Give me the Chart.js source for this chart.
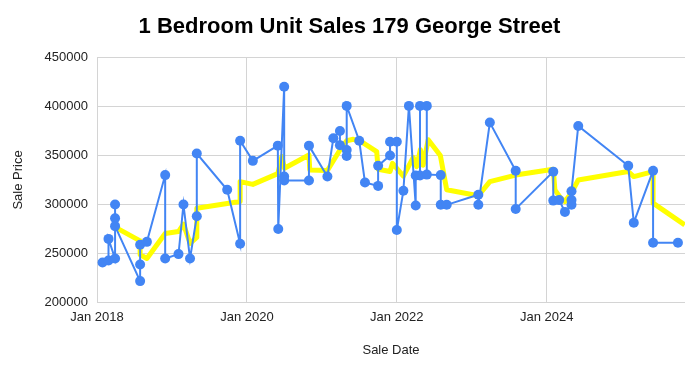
<!DOCTYPE html>
<html>
<head>
<meta charset="utf-8">
<script src="https://cdn.jsdelivr.net/npm/chart.js@4"></script>
<style>
  html, body { margin: 0; padding: 0; background: #ffffff; }
  #wrap { width: 699px; height: 368px; }
</style>
</head>
<body>
<div id="wrap"><canvas id="c" width="699" height="368"></canvas></div>
<script>
const chartTitle = "1 Bedroom Unit Sales 179 George Street";
const xAxisTitle = "Sale Date";
const yAxisTitle = "Sale Price";

const saleDates = [
  "2018-01-28","2018-02-26","2018-02-26","2018-03-30","2018-03-30","2018-03-30","2018-03-30",
  "2018-07-30","2018-07-30","2018-07-30","2018-09-01","2018-11-29","2018-11-29",
  "2019-02-02","2019-02-26","2019-03-30","2019-05-02","2019-05-02","2019-09-27",
  "2019-11-29","2019-11-29","2020-01-30","2020-05-31","2020-06-02","2020-07-01","2020-07-01","2020-07-01",
  "2020-10-30","2020-10-30","2021-01-28","2021-02-26","2021-03-30","2021-03-30",
  "2021-05-02","2021-05-02","2021-05-02","2021-07-02","2021-07-30","2021-10-02","2021-10-02",
  "2021-11-29","2021-11-29","2022-01-01","2022-01-01","2022-02-02","2022-03-01",
  "2022-04-03","2022-04-03","2022-04-24","2022-04-24","2022-05-27","2022-05-27",
  "2022-08-03","2022-08-03","2022-09-01","2023-02-02","2023-02-02","2023-03-30",
  "2023-08-03","2023-08-03","2024-02-02","2024-02-02","2024-03-02","2024-03-30",
  "2024-05-01","2024-05-01","2024-05-01","2024-06-03","2025-02-02","2025-03-01",
  "2025-06-03","2025-06-03","2025-10-02"
];
const salePrices = [
  241000,243000,265000,245000,300000,286000,278000,
  222000,239000,259000,262000,330000,245000,
  249500,300000,245000,288000,352000,315000,
  260000,365000,344500,360000,275000,420000,328500,324500,
  324500,360000,328500,367500,375000,360500,
  355500,349500,400500,365000,322500,319000,339500,
  350000,364000,364000,274000,314000,400500,
  299000,329500,329500,400500,400500,330500,
  330000,299700,299700,310000,299700,383500,
  334500,295500,333500,304000,304500,292500,
  299700,304500,313500,380000,339500,281500,
  334500,261000,261000
];

const trendDates = [
  "2018-03-30","2018-07-30","2018-07-30","2018-09-01","2018-11-29","2019-02-02","2019-02-26",
  "2019-03-30","2019-05-02","2019-05-02","2019-09-27","2019-11-29","2019-11-29","2020-01-30",
  "2020-05-31","2020-06-20","2020-07-02","2020-10-30","2020-11-03","2021-01-28","2021-03-30",
  "2021-05-02","2021-06-03","2021-07-23","2021-09-25","2021-10-02","2021-11-29","2021-12-11",
  "2022-02-02","2022-03-22","2022-04-08","2022-04-26","2022-05-09","2022-06-03","2022-08-01",
  "2022-09-01","2023-02-02","2023-03-30","2023-08-03","2024-02-02","2024-02-10","2024-03-06",
  "2024-03-30","2024-05-01","2024-06-03","2025-02-02","2025-03-01","2025-06-03","2025-06-03",
  "2025-11-04"
];
const trendPrices = [
  277000,263000,249000,245000,270500,272500,280000,
  260500,266500,296300,301000,303000,323400,320500,
  331500,349000,337000,350500,335300,334600,355600,
  365000,366500,362500,354000,336000,333600,342000,
  329000,348000,338700,356000,340000,366000,350000,
  315000,309000,323400,330000,335900,314900,307500,
  303000,312000,325000,333600,328500,333600,301400,
  279300
];

const xTickYears = [2018, 2020, 2022, 2024];
const xTickLabels = ["Jan 2018", "Jan 2020", "Jan 2022", "Jan 2024"];
const yMin = 200000, yMax = 450000, yStep = 50000;
const xMin = 2018, xMax = 2025.845;

function yearFrac(s) {
  const p = s.split("-").map(Number);
  const y = p[0];
  const t = Date.UTC(y, p[1] - 1, p[2]);
  const a = Date.UTC(y, 0, 1), b = Date.UTC(y + 1, 0, 1);
  return y + (t - a) / (b - a);
}

const salesPts = saleDates.map((d, i) => ({ x: yearFrac(d), y: salePrices[i] }));
const trendPts = trendDates.map((d, i) => ({ x: Math.min(yearFrac(d), xMax), y: trendPrices[i] }));

const FONT = "'Liberation Sans', Arial, Helvetica, sans-serif";
const gridColor = "#d4d4d4";

new Chart(document.getElementById("c"), {
  type: "line",
  data: {
    datasets: [
      {
        label: "Sale Price",
        data: salesPts,
        borderColor: "#4285F4",
        backgroundColor: "#4285F4",
        borderWidth: 2,
        pointRadius: 5,
        pointHoverRadius: 5,
        pointBorderWidth: 0,
        pointBackgroundColor: "#4285F4",
        tension: 0,
        fill: false
      },
      {
        label: "Trend",
        data: trendPts,
        borderColor: "#FFFF00",
        borderWidth: 5,
        pointRadius: 0,
        tension: 0,
        fill: false,
        borderJoinStyle: "round"
      }
    ]
  },
  options: {
    responsive: false,
    animation: false,
    devicePixelRatio: 1,
    layout: { padding: { left: 0, right: 0, top: 0, bottom: 0 } },
    plugins: {
      legend: { display: false },
      tooltip: { enabled: false },
      title: {
        display: true,
        text: chartTitle,
        color: "#000000",
        font: { family: FONT, size: 22, weight: "bold" },
        padding: { top: 14, bottom: 16.9 }
      }
    },
    scales: {
      x: {
        type: "linear",
        min: xMin,
        max: xMax,
        afterBuildTicks: (s) => { s.ticks = xTickYears.map(v => ({ value: v })); },
        afterFit: (s) => { s.height = 65.3; },
        ticks: {
          color: "#222222",
          font: { family: FONT, size: 13 },
          padding: 7,
          maxRotation: 0,
          autoSkip: false,
          callback: (v) => { const i = xTickYears.indexOf(v); return i >= 0 ? xTickLabels[i] : ""; }
        },
        grid: { color: gridColor, lineWidth: 1, drawTicks: false },
        border: { display: false },
        title: {
          display: true,
          text: xAxisTitle,
          color: "#222222",
          font: { family: FONT, size: 13 },
          padding: { top: 4, bottom: 10.2 }
        }
      },
      y: {
        type: "linear",
        min: yMin,
        max: yMax,
        afterFit: (s) => { s.width = 97; },
        ticks: {
          stepSize: yStep,
          color: "#222222",
          font: { family: FONT, size: 13 },
          padding: 9,
          callback: (v) => String(v)
        },
        grid: { color: gridColor, lineWidth: 1, drawTicks: false },
        border: { display: false },
        title: {
          display: true,
          text: yAxisTitle,
          color: "#222222",
          font: { family: FONT, size: 13 },
          padding: { top: 11, bottom: 4 }
        }
      },
      yRightSpace: {
        type: "linear",
        position: "right",
        display: true,
        afterFit: (s) => { s.width = 14; },
        ticks: { display: false },
        grid: { display: false, drawTicks: false },
        border: { display: false },
        title: { display: false }
      }
    }
  }
});
</script>
</body>
</html>
